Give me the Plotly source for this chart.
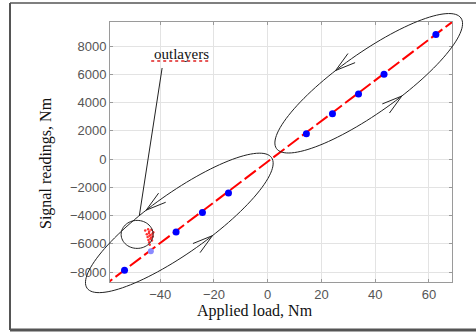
import numpy as np
import plotly.graph_objects as go

# ---------------- data ----------------
applied_load = [-53.3, -34.1, -24.3, -14.6, 14.4, 24.1, 33.8, 43.3, 62.6]
signal_reading = [-7860, -5160, -3780, -2400, 1790, 3215, 4610, 6010, 8830]
faint_load = [-43.5]
faint_signal = [-6530]
outlier_load = [-45.6, -44.5, -44.1, -43.3, -42.6, -45.0, -44.2, -43.6, -42.9,
                -44.7, -44.0, -43.4, -42.8, -44.4, -43.7, -43.1, -44.1, -43.9]
outlier_signal = [-5060, -4960, -5120, -5000, -5170, -5320, -5230, -5370, -5290,
                  -5520, -5430, -5570, -5470, -5720, -5640, -5760, -5880, -6060]
fit_slope = 144.0
fit_intercept = -180.0
fit_x = [-62, 72]
x_ticks = [-40, -20, 0, 20, 40, 60]
y_ticks = [-8000, -6000, -4000, -2000, 0, 2000, 4000, 6000, 8000]
x_range = [-58.7, 68.6]
y_range = [-8700, 9708]

# annotation geometry (data units for centers)
ellipse_centers = [(37.6, 5370), (-32.9, -4516)]
circle_center = (-48.6, -5330)
label_pos = (-32.2, 7443)
pointer = [(-39.3, 6452), (-47.8, -4030)]

# ---------------- layout geometry ----------------
W, H = 476, 334
ML, MR, MT, MB = 110, 24, 22, 52
PW, PH = W - ML - MR, H - MT - MB


def d2p(x, y):
    px = ML + (x - x_range[0]) / (x_range[1] - x_range[0]) * PW
    py = MT + PH - (y - y_range[0]) / (y_range[1] - y_range[0]) * PH
    return px, py


def p2paper(px, py):
    return (px - ML) / PW, (MT + PH - py) / PH


def path_from_pixels(pts, close=False):
    s = ""
    for i, (px, py) in enumerate(pts):
        X, Y = p2paper(px, py)
        s += ("M" if i == 0 else "L") + f"{X:.5f},{Y:.5f} "
    if close:
        s += "Z"
    return s


fig = go.Figure()

fit_y = [fit_slope * x + fit_intercept for x in fit_x]
fig.add_trace(go.Scatter(x=fit_x, y=fit_y, mode="lines",
                         line=dict(color="#ff0000", width=2, dash="14px,4px"),
                         hoverinfo="skip"))
fig.add_trace(go.Scatter(x=outlier_load, y=outlier_signal, mode="markers",
                         marker=dict(color="#ff3030", size=2.5), hoverinfo="skip"))
fig.add_trace(go.Scatter(x=faint_load, y=faint_signal, mode="markers",
                         marker=dict(color="#8a8aff", size=6), hoverinfo="skip"))
fig.add_trace(go.Scatter(x=applied_load, y=signal_reading, mode="markers",
                         marker=dict(color="#0000ff", size=7), hoverinfo="skip"))

shapes = []
# ellipses with chevron arrows
ang = np.deg2rad(35.3)
u = np.array([np.cos(ang), -np.sin(ang)])
n = np.array([-np.sin(ang), -np.cos(ang)])
A_, B_ = 113.0, 30.0
for cx, cy in ellipse_centers:
    c = np.array(d2p(cx, cy))
    ts = np.linspace(0, 2 * np.pi, 121)
    pts = [tuple(c + A_ * np.cos(t) * u + B_ * np.sin(t) * n) for t in ts]
    shapes.append(dict(type="path", xref="paper", yref="paper",
                       path=path_from_pixels(pts, close=True),
                       line=dict(color="#222222", width=1)))
    for t_deg in (100, -80):
        t = np.deg2rad(t_deg)
        tip = c + A_ * np.cos(t) * u + B_ * np.sin(t) * n
        tan = -A_ * np.sin(t) * u + B_ * np.cos(t) * n
        tan = tan / np.linalg.norm(tan)
        back = -tan
        arms = []
        for s in (1, -1):
            th = np.deg2rad(16) * s
            rot = np.array([back[0] * np.cos(th) - back[1] * np.sin(th),
                            back[0] * np.sin(th) + back[1] * np.cos(th)])
            arms.append(tuple(tip + 21 * rot))
        shapes.append(dict(type="path", xref="paper", yref="paper",
                           path=path_from_pixels([arms[0], tuple(tip), arms[1]]),
                           line=dict(color="#222222", width=1)))

# small circle around outliers
cc = np.array(d2p(*circle_center))
ts = np.linspace(0, 2 * np.pi, 61)
pts = [(cc[0] + 16 * np.cos(t), cc[1] + 14 * np.sin(t)) for t in ts]
shapes.append(dict(type="path", xref="paper", yref="paper",
                   path=path_from_pixels(pts, close=True),
                   line=dict(color="#222222", width=1)))

# pointer line
shapes.append(dict(type="line", xref="x", yref="y",
                   x0=pointer[0][0], y0=pointer[0][1], x1=pointer[1][0], y1=pointer[1][1],
                   line=dict(color="#222222", width=1)))

# spell-check squiggle under the label
lp = d2p(*label_pos)
sq = [(lp[0] - 30, lp[1] + 7), (lp[0] + 30, lp[1] + 7)]
shapes.append(dict(type="path", xref="paper", yref="paper",
                   path=path_from_pixels(sq),
                   line=dict(color="#e02020", width=1.5, dash="dot")))

# outer frame
frame = [((10, 3), (476, 3), 1.5), ((10, 3), (10, 330), 2), ((10, 330), (476, 330), 3)]
for (a, b, w) in frame:
    X0, Y0 = p2paper(*a)
    X1, Y1 = p2paper(*b)
    shapes.append(dict(type="line", xref="paper", yref="paper",
                       x0=X0, y0=Y0, x1=X1, y1=Y1,
                       line=dict(color="#555555", width=w)))

annotations = [
    dict(x=label_pos[0], y=label_pos[1], xref="x", yref="y", text="outlayers",
         showarrow=False, font=dict(family="Liberation Serif", size=15, color="#111111")),
    dict(x=p2paper(255, 0)[0], y=p2paper(0, 311)[1], xref="paper", yref="paper",
         xanchor="center", yanchor="middle",
         text="Applied load, Nm", showarrow=False,
         font=dict(family="Liberation Serif", size=16, color="#111111")),
    dict(x=p2paper(46, 0)[0], y=p2paper(0, 163)[1], xref="paper", yref="paper",
         xanchor="center", yanchor="middle",
         text="Signal readings, Nm", showarrow=False, textangle=-90,
         font=dict(family="Liberation Serif", size=16, color="#111111")),
]

axis_common = dict(showgrid=True, gridcolor="#e3e3e3", gridwidth=1,
                   zeroline=False, showline=True, linecolor="#9a9a9a", linewidth=1,
                   mirror="ticks", ticks="inside", ticklen=3, tickcolor="#9a9a9a",
                   tickfont=dict(family="Liberation Sans", size=13, color="#555555"))

fig.update_layout(
    width=W, height=H,
    margin=dict(l=ML, r=MR, t=MT, b=MB, autoexpand=False),
    paper_bgcolor="white", plot_bgcolor="white",
    showlegend=False,
    xaxis=dict(range=x_range, tickvals=x_ticks, **axis_common),
    yaxis=dict(range=y_range, tickvals=y_ticks, **axis_common),
    shapes=shapes,
    annotations=annotations,
)

fig.write_html("out.html", config={"displayModeBar": False},
               post_script="document.body.style.margin='0';")
